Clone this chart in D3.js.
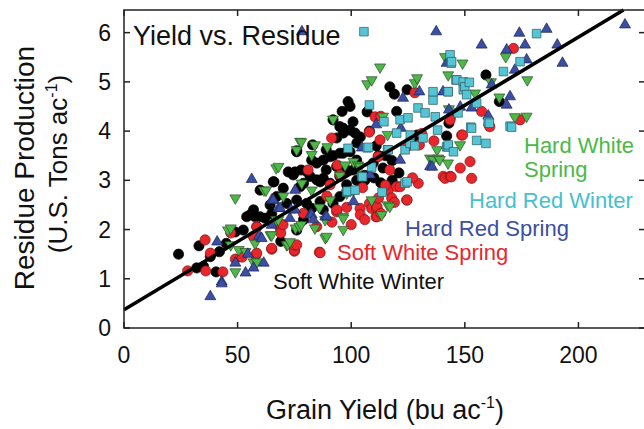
<!DOCTYPE html>
<html>
<head>
<meta charset="utf-8">
<script src="https://cdn.jsdelivr.net/npm/d3@7"></script>
<style>
  body { margin: 0; background: #fff; }
  text { font-family: "Liberation Sans", Arial, sans-serif; }
</style>
</head>
<body>
<script>
// [grain yield (bu/ac), residue (US tons/ac)]
var softWhiteWinter = [
  [24,1.5],[33,1.67],[32,1.22],[40.5,1.14],[35,1.25],[38,1.45],[42,1.55],[45,1.72],[49,1.95],[52.5,1.99],
  [54,2.26],[55.5,2.3],[57.7,2.26],[57,2.4],[59.9,2.26],[59.9,2.8],[62,2.23],[64.3,2.5],[65,2.32],[65.7,2.97],
  [66,2.97],[67.2,2.67],[69,1.76],[70.1,2.84],[71.6,2.53],[72.3,3.17],[75.3,3.17],[76,3.6],[76,3.58],[76,1.99],
  [76,2.6],[77.5,2.87],[79,2.2],[74.5,3.11],[78,3.21],[79,2.94],[80.4,2.53],[80.4,3.18],[81.9,3.08],[82.6,2.43],
  [82.6,3.41],[83,3.72],[84.8,3.35],[84.8,3.01],[86.3,2.97],[86.3,2.57],[87.7,2.4],[87.7,3.41],[87.7,3.04],[89,3.21],
  [89,3.62],[90.7,3.48],[90.7,2.94],[92,2.53],[92,3.5],[92,4.23],[93.6,3.28],[93.6,3.86],[95,2.67],[95,3.08],
  [95,3.55],[95,4.09],[96,4.4],[96.4,4.06],[96.5,3.96],[96.5,3.55],[98,2.91],[98,3.21],[98.6,4.6],[99.5,4.5],
  [99.5,3.58],[99.5,4.02],[100.8,4.19],[101,3.21],[101.7,3.96],[102.4,3.41],[102.4,3.0],[102.5,3.76],[104,3.88],[107,4.39],
  [108,4.0],[109.7,3.35],[112,3.5],[117,4.9],[119,4.75],[120,4.4],[124.6,4.84],[128,3.82],[129,3.92],[142,3.9],
  [143,4.16],[143.5,4.26],[159.3,5.14],[165.2,4.6],[106,3.0],[114,3.25],[118,3.4],
  [106,3.1],[110,3.05],[113,2.95],[118,3.0],[121,3.15],[115,3.5],[111,3.7]
];
var softWhiteSpring = [
  [28,1.16],[35.7,1.79],[36,1.16],[38,1.52],[43.5,1.14],[47,1.93],[49,1.4],[52,1.44],[56.9,1.86],[58,1.48],
  [58.4,2.06],[58.4,1.52],[58.5,2.05],[65,1.6],[65,1.62],[68.7,2.03],[69,1.93],[70,2.1],[75,1.65],[75,1.56],
  [75,1.58],[75,1.68],[76,1.69],[78.9,2.33],[81,3.21],[84.8,2.06],[86,1.54],[86.3,1.53],[89.3,2.68],[90.7,2.91],
  [91.4,3.86],[91.5,2.15],[93.6,2.36],[93.6,2.4],[93.9,3.31],[95,3.11],[103.9,2.43],[108,3.98],[108,2.53],[109,2.43],
  [110.5,4.29],[110.9,2.26],[111.2,2.43],[111.4,2.46],[111.4,2.26],[111.8,3.48],[112,2.64],[112.7,3.82],[113,2.33],[113,4.3],
  [116.3,2.8],[117,3.21],[117.8,2.64],[120,2.87],[121.5,2.87],[124.4,2.6],[124.6,2.6],[125,3.7],[128,4.78],[129.5,2.94],
  [130,3.72],[131,3.95],[136.4,3.8],[140.5,3.08],[141.3,3.04],[143.5,3.08],[143.5,4.23],[144,3.07],[148,3.25],[148.6,3.92],
  [149,3.92],[152.3,3.38],[153,3.04],[157.4,4.4],[160.6,4.13],[161,4.09],[171.4,5.68],[174.3,4.23],
  [100,2.1],[104,2.3],[98,2.45],[106,2.2],[119,2.55],[127,3.05],[115,2.9],[105,2.85]
];
var hardWhiteSpring = [
  [45.8,1.99],[47,2.03],[47,1.69],[49,1.14],[49,2.64],[50.5,1.59],[53.5,1.55],[57,1.34],[57.7,1.72],[58.5,1.34],
  [61.6,2.8],[62.5,2.8],[64.5,1.89],[65,1.89],[67,2.2],[67,3.25],[67.9,2.2],[68,3.28],[70.1,2.68],[71.6,1.69],
  [72,1.7],[73,1.75],[75.5,2.03],[76,3.62],[77.2,2.06],[77.5,3.79],[78,2.1],[78,3.78],[78.2,2.94],[82.6,3.52],
  [82.6,2.8],[84,3.72],[84,2.03],[86,2.45],[88.5,2.2],[88.6,1.83],[89.2,1.86],[89.5,3.68],[90.7,2.6],[92,4.24],
  [95,3.1],[96.4,2.26],[96.5,2.0],[96.5,2.23],[97.3,3.31],[98,2.74],[101,2.8],[101,3.38],[103,3.31],[104,3.28],
  [107,4.96],[109,5.04],[109,2.6],[112.7,5.3],[113.4,2.3],[114,4.3],[116,3.93],[116,2.5],[117,2.47],[128,4.98],
  [129,5.08],[134.7,3.45],[136,3.42],[137.8,3.62],[138.3,3.45],[139,3.42],[141.3,5.51],[142.6,3.35],[142.7,5.14],[143,4.45],
  [147.9,3.72],[149,5.38],[154.5,4.77],[161.5,5.0],[165.2,4.69],[168,5.51],[172,4.29],[177.2,4.3],[177.5,5.04]
];
var hardRedSpring = [
  [38,0.64],[41,1.75],[43,0.94],[43,0.9],[49,1.32],[53.5,1.12],[54.5,1.5],[56.2,3.02],[57,1.22],[59.5,1.87],
  [60.6,1.82],[61.5,1.32],[65,2.09],[65,2.6],[65.7,2.6],[68,2.43],[68.7,2.43],[73,2.23],[73.5,2.4],[75.3,2.8],
  [75.3,2.4],[78.3,6.02],[82,2.3],[82.6,2.3],[83.3,2.2],[88.6,2.26],[89.2,2.26],[101,2.57],[104.7,3.66],[108.3,3.11],
  [111,4.13],[121.5,3.41],[121.8,4.06],[122.8,4.67],[130,4.8],[134.7,3.28],[135.6,3.27],[137.4,6.02],[140.4,4.8],[142,5.38],
  [143,4.43],[148,4.49],[153,4.47],[157.4,5.75],[160.3,4.31],[161.8,4.94],[168.4,5.65],[168.4,4.53],[169.9,4.7],[172,5.24],
  [174,5.99],[176.5,5.75],[177.2,5.45],[186,6.07],[190.7,5.75],[193,5.38],[220.5,6.16]
];
var hardRedWinter = [
  [98,2.76],[98.3,2.78],[98.6,3.65],[101.7,2.8],[104.6,3.08],[105,3.07],[105.6,6.02],[107,3.66],[107.5,3.67],[108,4.53],
  [109,3.27],[113.6,2.76],[114.4,4.19],[116,3.62],[116.3,3.62],[120,3.96],[121.5,4.23],[123.7,3.62],[123.7,2.94],[124.6,2.97],
  [125,4.27],[125.9,3.75],[126,3.92],[128,3.7],[129.4,4.47],[131.6,3.86],[132.5,4.37],[136,4.63],[136,4.8],[137,4.29],
  [138,4.02],[142,3.68],[142.6,4.8],[142.6,3.68],[142.7,4.8],[142.7,3.72],[143.5,5.55],[144,5.38],[144.2,5.41],[145,3.58],
  [146.1,5.04],[146.5,5.04],[147,4.37],[149.3,5.0],[149.3,4.84],[150,4.9],[150.8,4.74],[152,4.99],[152.6,4.08],[153,4.06],
  [155.2,4.57],[155.2,3.81],[159.3,3.75],[160.3,4.19],[160.8,4.16],[167,5.21],[169.9,4.1],[170.6,4.08],[174.3,5.41],[181.6,5.98]
];

var seriesNames = ["Soft White Winter", "Soft White Spring", "Hard White Spring", "Hard Red Spring", "Hard Red Winter"];
var xTicks = [0, 50, 100, 150, 200];
var yTicks = [0, 1, 2, 3, 4, 5, 6];
var fitIntercept = 0.37, fitSlope = 0.0277;

var W = 644, H = 429;
var margin = {top: 10, right: -1, bottom: 101, left: 124};
var x = d3.scaleLinear().domain([0, 229.3]).range([margin.left, W - margin.right]);
var y = d3.scaleLinear().domain([0, 6.46]).range([H - margin.bottom, margin.top]);

var svg = d3.select("body").append("svg")
    .attr("width", W)
    .attr("height", H);

var x0 = x.range()[0], x1 = x.range()[1], y0 = y.range()[0], y1 = y.range()[1];

// points
var sym = {
  circle: d3.symbol().type(d3.symbolCircle).size(82)(),
  tri: d3.symbol().type(d3.symbolTriangle).size(52)(),
  square: d3.symbol().type(d3.symbolSquare).size(74)()
};

function drawSeries(data, path, fill, stroke, rot) {
  svg.append("g").selectAll("path")
    .data(data)
    .enter().append("path")
    .attr("d", path)
    .attr("transform", function(d) {
      return "translate(" + x(d[0]) + "," + y(d[1]) + ")" + (rot ? " rotate(" + rot + ")" : "");
    })
    .attr("fill", fill)
    .attr("stroke", stroke)
    .attr("stroke-width", 0.7);
}

drawSeries(softWhiteWinter, sym.circle, "#000", "#000", 0);
drawSeries(softWhiteSpring, sym.circle, "#e8262b", "#7a1414", 0);
drawSeries(hardWhiteSpring, sym.tri, "#4cb848", "#2f4a2c", 180);
drawSeries(hardRedSpring, sym.tri, "#3a4ea3", "#1c2452", 0);
drawSeries(hardRedWinter, sym.square, "#55c5d6", "#2d5960", 0);

// fit line
var fitEnd = (y.domain()[1] - fitIntercept) / fitSlope;
svg.append("line")
  .attr("x1", x(0)).attr("y1", y(fitIntercept))
  .attr("x2", x(fitEnd)).attr("y2", y(fitIntercept + fitSlope * fitEnd))
  .attr("stroke", "#000")
  .attr("stroke-width", 3.5);

// frame and ticks
svg.append("rect")
  .attr("x", x0).attr("y", y1)
  .attr("width", x1 - x0).attr("height", y0 - y1)
  .attr("fill", "none").attr("stroke", "#222").attr("stroke-width", 1.5);

var tickLen = 6;
var g = svg.append("g").attr("stroke", "#222").attr("stroke-width", 1.5);
xTicks.forEach(function(t) {
  g.append("line").attr("x1", x(t)).attr("x2", x(t)).attr("y1", y0).attr("y2", y0 - tickLen);
  g.append("line").attr("x1", x(t)).attr("x2", x(t)).attr("y1", y1).attr("y2", y1 + tickLen);
});
yTicks.forEach(function(t) {
  g.append("line").attr("x1", x0).attr("x2", x0 + tickLen).attr("y1", y(t)).attr("y2", y(t));
  g.append("line").attr("x1", x1).attr("x2", x1 - tickLen).attr("y1", y(t)).attr("y2", y(t));
});

svg.selectAll(".xtl").data(xTicks).enter().append("text")
  .attr("x", function(d) { return x(d); })
  .attr("y", 363)
  .attr("text-anchor", "middle")
  .attr("font-size", 23)
  .attr("fill", "#111")
  .text(function(d) { return d; });

svg.selectAll(".ytl").data(yTicks).enter().append("text")
  .attr("x", 111)
  .attr("y", function(d) { return y(d) + 8; })
  .attr("text-anchor", "end")
  .attr("font-size", 23)
  .attr("fill", "#111")
  .text(function(d) { return d; });

// axis titles
var xt = svg.append("text")
  .attr("x", 385).attr("y", 419)
  .attr("text-anchor", "middle")
  .attr("font-size", 27)
  .attr("fill", "#111");
xt.append("tspan").text("Grain Yield (bu ac");
xt.append("tspan").attr("font-size", 16).attr("dy", -11).text("-1");
xt.append("tspan").attr("dy", 11).text(")");

svg.append("text")
  .attr("transform", "translate(34,168) rotate(-90)")
  .attr("text-anchor", "middle")
  .attr("font-size", 28)
  .attr("fill", "#111")
  .text("Residue Production");

var yt2 = svg.append("text")
  .attr("transform", "translate(67,164) rotate(-90)")
  .attr("text-anchor", "middle")
  .attr("font-size", 26)
  .attr("fill", "#111");
yt2.append("tspan").text("(U.S. Tons ac");
yt2.append("tspan").attr("font-size", 16).attr("dy", -10).text("-1");
yt2.append("tspan").attr("dy", 10).text(")");

// chart title
svg.append("text")
  .attr("x", 133).attr("y", 45)
  .attr("font-size", 27)
  .attr("fill", "#111")
  .text("Yield vs. Residue");

// series labels
var labels = [
  {t: "Hard White", c: "#4cb848", x: 524, y: 153},
  {t: "Spring", c: "#4cb848", x: 524, y: 177},
  {t: seriesNames[4], c: "#45c0d0", x: 469, y: 208},
  {t: seriesNames[3], c: "#3a4ea3", x: 405, y: 236},
  {t: seriesNames[1], c: "#e8262b", x: 337, y: 260},
  {t: seriesNames[0], c: "#111", x: 273, y: 289}
];
svg.selectAll(".lab").data(labels).enter().append("text")
  .attr("x", function(d) { return d.x; })
  .attr("y", function(d) { return d.y; })
  .attr("font-size", 22)
  .attr("fill", function(d) { return d.c; })
  .text(function(d) { return d.t; });
</script>
</body>
</html>
